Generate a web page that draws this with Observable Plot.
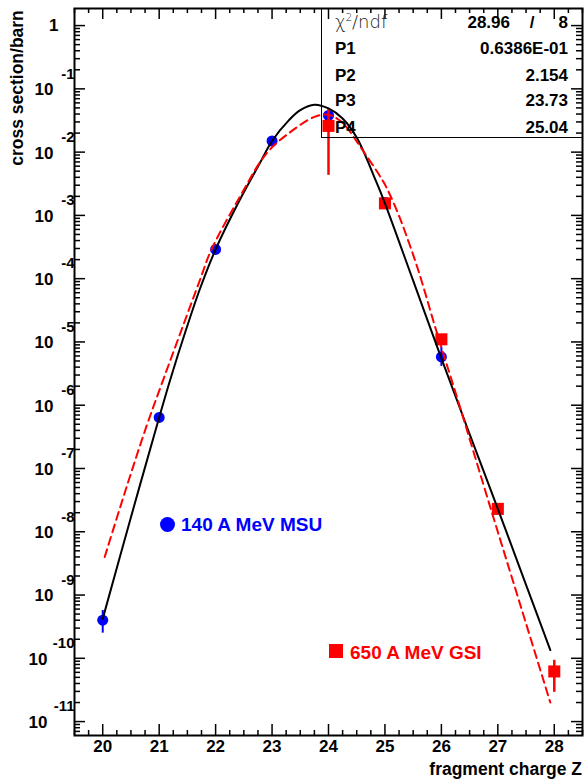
<!DOCTYPE html>
<html><head><meta charset="utf-8">
<script src="https://cdn.jsdelivr.net/npm/d3@7"></script>
<script src="https://cdn.jsdelivr.net/npm/@observablehq/plot@0.6"></script>
<style>
body{margin:0;background:#fff;}
#wrap{position:relative;width:588px;height:781px;font-family:"Liberation Sans",Arial,Helvetica,sans-serif;font-weight:bold;color:#000;}
#wrap svg{position:absolute;left:0;top:0;}
.abs{position:absolute;white-space:nowrap;line-height:1;}
</style></head><body><div id="wrap"></div>
<script>
// ---- data ----
const msuZ     = [20, 21, 22, 23, 24, 25, 26];
const msuSigma = [4.0e-10, 6.4e-7, 2.9e-4, 1.5e-2, 3.8e-2, 1.6e-3, 5.8e-6];
const msuLo    = [2.5e-10, 6.0e-7, 2.7e-4, 1.4e-2, 3.6e-2, 1.5e-3, 4.1e-6];
const msuHi    = [5.7e-10, 6.8e-7, 3.1e-4, 1.6e-2, 4.0e-2, 1.7e-3, 8.2e-6];

const gsiZ     = [24, 25, 26, 27, 28];
const gsiSigma = [2.6e-2, 1.55e-3, 1.1e-5, 2.3e-8, 6.2e-11];
const gsiLo    = [4.3e-3, 1.4e-3, 1.0e-5, 2.1e-8, 2.9e-11];
const gsiHi    = [4.9e-2, 1.7e-3, 1.2e-5, 2.5e-8, 9.3e-11];

const fitZ     = [20.0, 20.5, 21.0, 21.2, 21.47, 21.72, 22.0, 22.42, 22.78, 23.0, 23.3, 23.5, 23.75, 24.0, 24.25, 24.5, 24.84, 25.0, 25.5, 26.0, 26.5, 27.0, 27.5, 27.93];
const fitSigma = [4.2e-10, 1.7e-8, 6.4e-7, 2.6e-6, 1.5e-5, 6.8e-5, 2.9e-4, 1.7e-3, 6.6e-3, 1.5e-2, 3.2e-2, 4.6e-2, 5.6e-2, 4.9e-2, 3.4e-2, 1.7e-2, 3.5e-3, 1.55e-3, 9.3e-5, 5.5e-6, 3.5e-7, 2.3e-8, 1.45e-9, 1.35e-10];

const dashZ     = [20.035, 20.4, 20.77, 21.07, 21.39, 21.72, 21.92, 22.42, 22.9, 23.3, 23.75, 24.0, 24.25, 24.55, 24.96, 25.08, 25.26, 25.43, 25.61, 25.91, 26.28, 26.9, 27.4, 27.93];
const dashSigma = [4.0e-9, 4.4e-8, 4.5e-7, 2.5e-6, 1.5e-5, 9.4e-5, 2.8e-4, 1.9e-3, 9.5e-3, 2.0e-2, 3.6e-2, 3.9e-2, 2.9e-2, 1.26e-2, 3.55e-3, 2.2e-3, 9.3e-4, 3.6e-4, 1.2e-4, 1.5e-5, 1.3e-6, 1.95e-8, 6.9e-10, 2.0e-11];

const xTickValues = [20, 21, 22, 23, 24, 25, 26, 27, 28];
const xTickLabels = ["20", "21", "22", "23", "24", "25", "26", "27", "28"];
const yExponents  = [0, -1, -2, -3, -4, -5, -6, -7, -8, -9, -10, -11];

const legendLabels = ["140 A MeV MSU", "650 A MeV GSI"];
const statNames  = ["P1", "P2", "P3", "P4"];
const statValues = ["0.6386E-01", "2.154", "23.73", "25.04"];
const chi2 = "28.96", ndf = "8";

// ---- layout ----
const W = 588, H = 781, mL = 74, mT = 8, mR = 6, mB = 46;
const fw = W - mL - mR, fh = H - mT - mB;
const BLUE = "#0000ff", RED = "#ff0000";

const msu = msuZ.map((z, i) => ({z, s: msuSigma[i], lo: msuLo[i], hi: msuHi[i]}));
const gsi = gsiZ.map((z, i) => ({z, s: gsiSigma[i], lo: gsiLo[i], hi: gsiHi[i]}));
const fit = fitZ.map((z, i) => ({z, s: fitSigma[i]}));
const dash = dashZ.map((z, i) => ({z, s: dashSigma[i]}));

const xMinor = d3.range(19.5, 28.51, 0.25).filter(v => Math.abs(v - Math.round(v)) > 1e-6);
const yMajor = yExponents.map(e => 10 ** e);
const yLo = 10 ** -11.22, yHi = 10 ** 0.27;
const yMinor = [];
for (let e = -12; e <= 0; e++) for (let k = 2; k <= 9; k++) { const v = k * 10 ** e; if (v > yLo && v < yHi) yMinor.push(v); }

const tickW = 1.5;
const chart = Plot.plot({
  width: W, height: H,
  marginLeft: mL, marginTop: mT, marginRight: mR, marginBottom: mB,
  style: {fontFamily: "'Liberation Sans', Arial, sans-serif", background: "transparent"},
  x: {domain: [19.5, 28.5], axis: null},
  y: {type: "log", domain: [yLo, yHi], axis: null},
  marks: [
    // ticks (inward, all four sides)
    Plot.ruleX(xTickValues, {x: d => d, insetTop: fh - 11, stroke: "black", strokeWidth: tickW}),
    Plot.ruleX(xTickValues, {x: d => d, insetBottom: fh - 11, stroke: "black", strokeWidth: tickW}),
    Plot.ruleX(xMinor, {x: d => d, insetTop: fh - 5, stroke: "black", strokeWidth: tickW}),
    Plot.ruleX(xMinor, {x: d => d, insetBottom: fh - 5, stroke: "black", strokeWidth: tickW}),
    Plot.ruleY(yMajor, {y: d => d, insetRight: fw - 11, stroke: "black", strokeWidth: tickW}),
    Plot.ruleY(yMajor, {y: d => d, insetLeft: fw - 11, stroke: "black", strokeWidth: tickW}),
    Plot.ruleY(yMinor, {y: d => d, insetRight: fw - 6, stroke: "black", strokeWidth: tickW}),
    Plot.ruleY(yMinor, {y: d => d, insetLeft: fw - 6, stroke: "black", strokeWidth: tickW}),
    // x tick labels
    Plot.text(xTickValues, {x: d => d, frameAnchor: "bottom", dy: 16, text: (d, i) => xTickLabels[i], fontSize: 17, fontWeight: "bold", fill: "black"}),
    // y tick labels: "1", then "10" with exponent
    Plot.text(yExponents.filter(e => e === 0), {y: e => 10 ** e, frameAnchor: "left", textAnchor: "end",
      dx: -16, text: () => "1", fontSize: 17, fontWeight: "bold", fill: "black"}),
    Plot.text(yExponents.filter(e => e !== 0 && e > -10), {y: e => 10 ** e, frameAnchor: "left", textAnchor: "end",
      dx: -21, dy: 1, text: () => "10", fontSize: 17, fontWeight: "bold", fill: "black"}),
    Plot.text(yExponents.filter(e => e <= -10), {y: e => 10 ** e, frameAnchor: "left", textAnchor: "end",
      dx: -27, dy: 1, text: () => "10", fontSize: 17, fontWeight: "bold", fill: "black"}),
    Plot.text(yExponents.filter(e => e !== 0), {y: e => 10 ** e, frameAnchor: "left", textAnchor: "end",
      dx: 0, dy: -15, text: e => String(e), fontSize: 15, fontWeight: "bold", fill: "black"}),
    // data: MSU
    Plot.ruleX(msu, {x: "z", y1: "lo", y2: "hi", stroke: BLUE, strokeWidth: 2}),
    Plot.dot(msu, {x: "z", y: "s", r: 5.5, fill: BLUE, stroke: null}),
    // data: GSI
    Plot.ruleX(gsi, {x: "z", y1: "lo", y2: "hi", stroke: RED, strokeWidth: 2.5}),
    Plot.dot(gsi, {x: "z", y: "s", symbol: "square", r: 6.8, fill: RED, stroke: null}),
    // curves
    Plot.line(fit, {x: "z", y: "s", stroke: "black", strokeWidth: 2, curve: "catmull-rom"}),
    Plot.line(dash, {x: "z", y: "s", stroke: RED, strokeWidth: 2, strokeDasharray: "8,5", curve: "catmull-rom"}),
    Plot.frame({stroke: "black", strokeWidth: 2})
  ]
});

const wrap = document.getElementById("wrap");
wrap.appendChild(chart);

function addDiv(html, css) {
  const d = document.createElement("div");
  d.className = "abs";
  d.innerHTML = html;
  Object.assign(d.style, css);
  wrap.appendChild(d);
  return d;
}

// axis titles
addDiv("cross section/barn", {left: "18px", top: "88px", fontSize: "17.5px", transform: "translate(-50%,-50%) rotate(-90deg)"});
addDiv("fragment charge Z", {right: "6px", top: "770px", fontSize: "17.5px", transform: "translateY(-50%)"});

// legend
addDiv("", {left: "159.5px", top: "516.5px", width: "15px", height: "15px", borderRadius: "50%", background: BLUE});
addDiv(legendLabels[0], {left: "181px", top: "524px", fontSize: "19px", color: BLUE, transform: "translateY(-50%)"});
addDiv("", {left: "329px", top: "644px", width: "14px", height: "14px", background: RED});
addDiv(legendLabels[1], {left: "350px", top: "652px", fontSize: "19px", color: RED, transform: "translateY(-50%)"});

// stats box
addDiv("", {left: "321px", top: "8px", width: "261px", height: "130px", borderLeft: "1.5px solid black", borderBottom: "1.5px solid black", boxSizing: "border-box"});
addDiv('&#967;<sup style="font-size:10px">2</sup>/ndf', {left: "335px", top: "22px", fontSize: "18px", fontWeight: "200", fontFamily: "'DejaVu Sans', sans-serif", color: "#222", transform: "translateY(-50%)"});
addDiv(chi2, {right: `${W - 510}px`, top: "22px", fontSize: "17px", transform: "translateY(-50%)"});
addDiv("/", {left: "532px", top: "22px", fontSize: "17px", transform: "translate(-50%,-50%)"});
addDiv(ndf, {right: `${W - 568}px`, top: "22px", fontSize: "17px", transform: "translateY(-50%)"});
const rowY = [48, 75, 100, 127];
statNames.forEach((n, i) => {
  addDiv(n, {left: "335px", top: rowY[i] + "px", fontSize: "17px", transform: "translateY(-50%)"});
  addDiv(statValues[i], {right: `${W - 568}px`, top: rowY[i] + "px", fontSize: "17px", transform: "translateY(-50%)"});
});
</script>
</body></html>
